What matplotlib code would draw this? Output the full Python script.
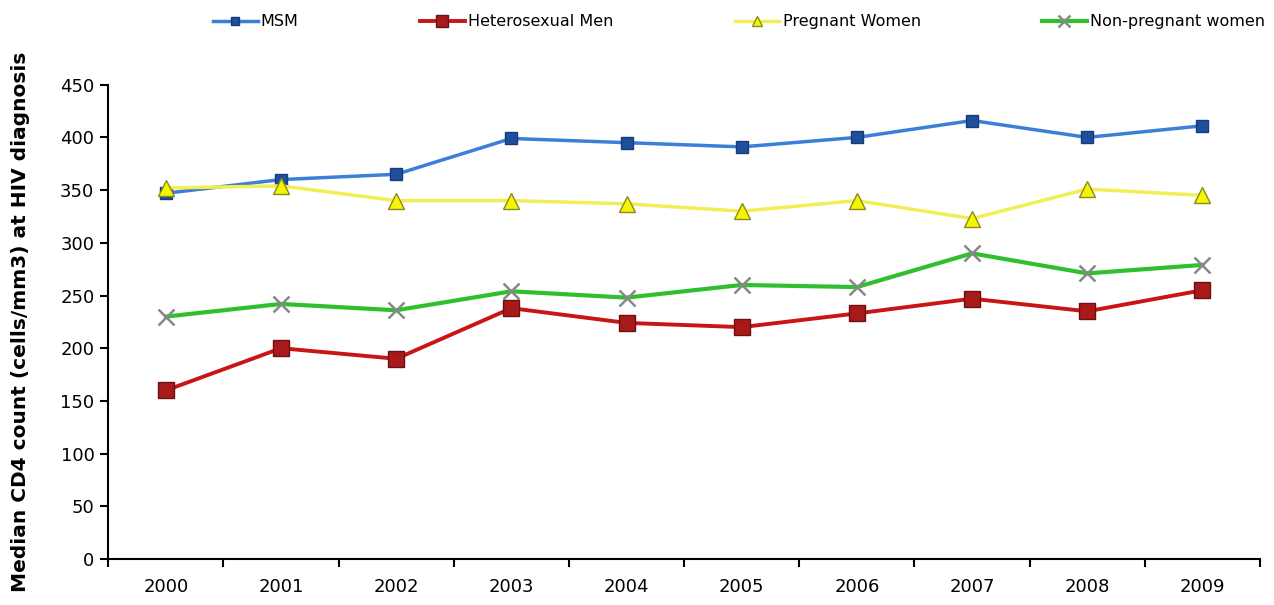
import numpy as np
import matplotlib.pyplot as plt

# median CD4 count at HIV diagnosis by group, 2000-2009
years = ['2000', '2001', '2002', '2003', '2004', '2005', '2006', '2007', '2008', '2009']
msm = [347, 360, 365, 399, 395, 391, 400, 416, 400, 411]
hetero_men = [160, 200, 190, 238, 224, 220, 233, 247, 235, 255]
pregnant = [352, 354, 340, 340, 337, 330, 340, 323, 351, 345]
non_pregnant = [230, 242, 236, 254, 248, 260, 258, 290, 271, 279]


def main():
    fig = plt.figure(figsize=(12.74, 6.05), dpi=100)
    ax = fig.add_axes([0.085, 0.076, 0.904, 0.784])
    x = np.arange(len(years))

    ax.plot(x, msm, color='#3c7fd9', lw=2.5, marker='s', ms=8,
            mfc='#1d4f9e', mec='#173d78', label='MSM', zorder=4)
    ax.plot(x, hetero_men, color='#c81515', lw=2.8, marker='s', ms=12,
            mfc='#a81a1a', mec='#6b1010', label='Heterosexual Men', zorder=3)
    ax.plot(x, pregnant, color='#f2ee55', lw=2.5, marker='^', ms=11,
            mfc='#f5f500', mec='#8a8a20', label='Pregnant Women', zorder=5)
    ax.plot(x, non_pregnant, color='#2fbf2f', lw=3, marker='x', ms=12,
            mec='#888888', mew=1.8, label='Non-pregnant women', zorder=2)

    ax.set_xlim(-0.5, len(years) - 0.5)
    ax.set_ylim(0, 450)
    ax.set_yticks(np.arange(0, 451, 50))
    ax.set_xticks(x)
    ax.set_xticklabels(years)
    ax.set_xticks(np.arange(-0.5, len(years)), minor=True)
    ax.tick_params(axis='x', which='major', length=0, pad=14, labelsize=13)
    ax.tick_params(axis='x', which='minor', length=6, width=1.5, direction='out')
    ax.tick_params(axis='y', length=6, width=1.5, labelsize=13, pad=4)

    for side in ['top', 'right']:
        ax.spines[side].set_visible(False)
    ax.spines['left'].set_linewidth(1.5)
    ax.spines['bottom'].set_linewidth(1.5)

    ax.set_ylabel('Median CD4 count (cells/mm3) at HIV diagnosis',
                  fontsize=14.5, fontweight='bold')
    ax.yaxis.set_label_coords(-0.068, 0.5)

    fig.legend(loc='upper center', bbox_to_anchor=(0.58, 1.0), ncol=4,
               frameon=False, fontsize=11.5, handlelength=2.8,
               columnspacing=7.6, handletextpad=0.2, markerscale=0.7)

    fig.savefig('out.png', dpi=100)


if __name__ == "__main__":
    main()
